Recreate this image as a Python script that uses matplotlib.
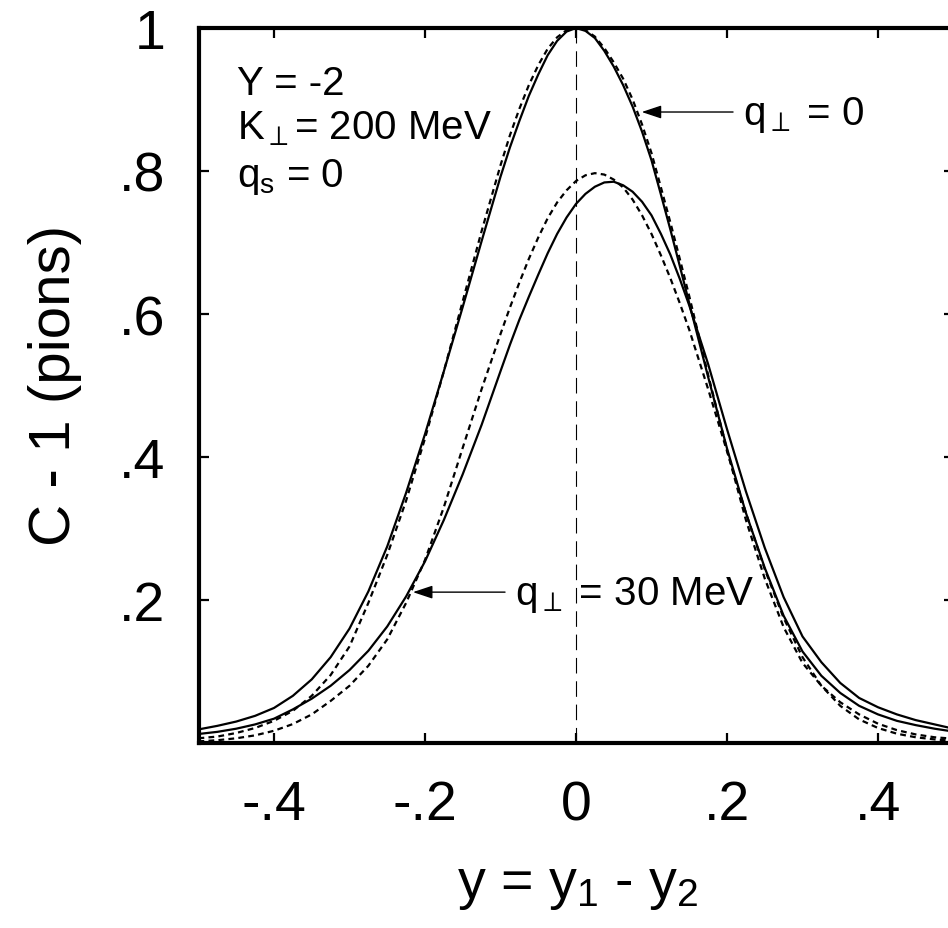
import numpy as np
import matplotlib
matplotlib.use('Agg')
import matplotlib.pyplot as plt

plt.rcParams['font.family'] = ['Liberation Sans', 'DejaVu Sans']
plt.rcParams['mathtext.fontset'] = 'custom'
plt.rcParams['mathtext.rm'] = 'Liberation Sans'
plt.rcParams['mathtext.it'] = 'Liberation Sans:italic'
plt.rcParams['mathtext.sf'] = 'Liberation Sans'

# rapidity difference grid: step .025 in the tails, .0125 around the peaks
y_diff = np.concatenate([np.linspace(-0.5, -0.1, 17),
                         np.linspace(-0.0875, 0.1375, 19),
                         np.linspace(0.15, 0.5, 15)])

# C - 1 for q_perp = 0 (solid / dashed)
c_q0_solid = [0.019, 0.024, 0.030, 0.038, 0.049, 0.066, 0.089, 0.120, 0.160, 0.212,
              0.275, 0.350, 0.432, 0.520, 0.610, 0.702, 0.792,
              0.833, 0.870, 0.905, 0.935, 0.962, 0.982, 0.995, 1.000, 0.996, 0.986,
              0.968, 0.946, 0.920, 0.890, 0.855, 0.815, 0.767, 0.718, 0.667,
              0.615, 0.512, 0.412, 0.322, 0.245, 0.178, 0.128, 0.094, 0.070, 0.052,
              0.040, 0.031, 0.025, 0.020, 0.016]
c_q0_dash = [0.0066, 0.009, 0.014, 0.021, 0.031, 0.045, 0.066, 0.095, 0.135, 0.196,
             0.263, 0.339, 0.426, 0.520, 0.618, 0.716, 0.808,
             0.850, 0.887, 0.920, 0.948, 0.971, 0.987, 0.997, 1.000, 0.997, 0.988,
             0.972, 0.952, 0.929, 0.900, 0.865, 0.825, 0.777, 0.728, 0.677,
             0.625, 0.515, 0.410, 0.312, 0.230, 0.162, 0.112, 0.080, 0.057, 0.040,
             0.027, 0.018, 0.012, 0.008, 0.006]

# C - 1 for q_perp = 30 MeV (solid / dashed)
c_q30_solid = [0.0126, 0.0156, 0.020, 0.026, 0.034, 0.047, 0.062, 0.080, 0.102, 0.129,
               0.163, 0.205, 0.254, 0.312, 0.376, 0.445, 0.520,
               0.557, 0.592, 0.624, 0.655, 0.685, 0.712, 0.735, 0.754, 0.768, 0.778,
               0.784, 0.785, 0.780, 0.771, 0.757, 0.738, 0.712, 0.683, 0.649,
               0.612, 0.530, 0.439, 0.352, 0.273, 0.204, 0.149, 0.113, 0.084, 0.063,
               0.050, 0.040, 0.032, 0.026, 0.020]
c_q30_dash = [0.0023, 0.0039, 0.0066, 0.0107, 0.0171, 0.0265, 0.040, 0.0588, 0.080, 0.108,
              0.145, 0.196, 0.256, 0.330, 0.413, 0.495, 0.572,
              0.609, 0.644, 0.677, 0.707, 0.734, 0.756, 0.773, 0.786, 0.794, 0.797,
              0.795, 0.788, 0.777, 0.760, 0.738, 0.712, 0.682, 0.650, 0.615,
              0.578, 0.495, 0.408, 0.322, 0.243, 0.175, 0.120, 0.080, 0.052, 0.033,
              0.021, 0.013, 0.008, 0.005, 0.003]

x_ticks = [-0.4, -0.2, 0.0, 0.2, 0.4]
x_ticklabels = ['-.4', '-.2', '0', '.2', '.4']
y_ticks = [0.2, 0.4, 0.6, 0.8, 1.0]
y_ticklabels = ['.2', '.4', '.6', '.8', '1']

fig = plt.figure(figsize=(9.48, 9.29), dpi=100)
# axes run past the right border of the picture, like the original scan
ax = fig.add_axes([198.5/948, 185/929, 755/948, 715/929])

ax.plot(y_diff, c_q0_solid, color='black', lw=1.6)
ax.plot(y_diff, c_q0_dash, color='black', lw=1.6, dashes=(2.6, 1.9))
ax.plot(y_diff, c_q30_solid, color='black', lw=1.6)
ax.plot(y_diff, c_q30_dash, color='black', lw=1.6, dashes=(2.6, 1.9))
ax.axvline(0, color='black', lw=0.8, dashes=(14, 7))

ax.set_xlim(-0.5, 0.5)
ax.set_ylim(0, 1)
ax.set_xticks(x_ticks)
ax.set_xticklabels(x_ticklabels)
ax.set_yticks(y_ticks)
ax.set_yticklabels(y_ticklabels)
ax.tick_params(direction='in', length=7, width=1.6, top=True, right=True,
               labelsize=40)
ax.tick_params(axis='x', pad=26)
ax.tick_params(axis='y', pad=24)
for s in ax.spines.values():
    s.set_linewidth(3)

fig.text(55/948, 1 - 385/929, 'C - 1 (pions)', rotation=90, fontsize=42,
         ha='center', va='center')
fig.text(578/948, (929 - 898)/929, r'y = y$_1$ - y$_2$', fontsize=40,
         ha='center', va='baseline')

# labels in the upper left
ax.text(-0.449, 0.908, 'Y = -2', fontsize=29)
ax.text(-0.449, 0.845, r'K$_\perp$= 200 MeV', fontsize=29)
ax.text(-0.449, 0.779, r'q$_\mathregular{s}$ = 0', fontsize=29)

arrow = dict(arrowstyle='-|>,head_length=0.6,head_width=0.2', color='black',
             lw=1.0, mutation_scale=20, shrinkA=0, shrinkB=0)
ax.annotate('', xy=(0.087, 0.8825), xytext=(0.208, 0.8825), arrowprops=arrow)
ax.text(0.221, 0.866, r'q$_\perp$ = 0', fontsize=29)
ax.annotate('', xy=(-0.216, 0.211), xytext=(-0.094, 0.211), arrowprops=arrow)
ax.text(-0.081, 0.194, r'q$_\perp$ = 30 MeV', fontsize=29)

fig.savefig('out.png', dpi=100)
